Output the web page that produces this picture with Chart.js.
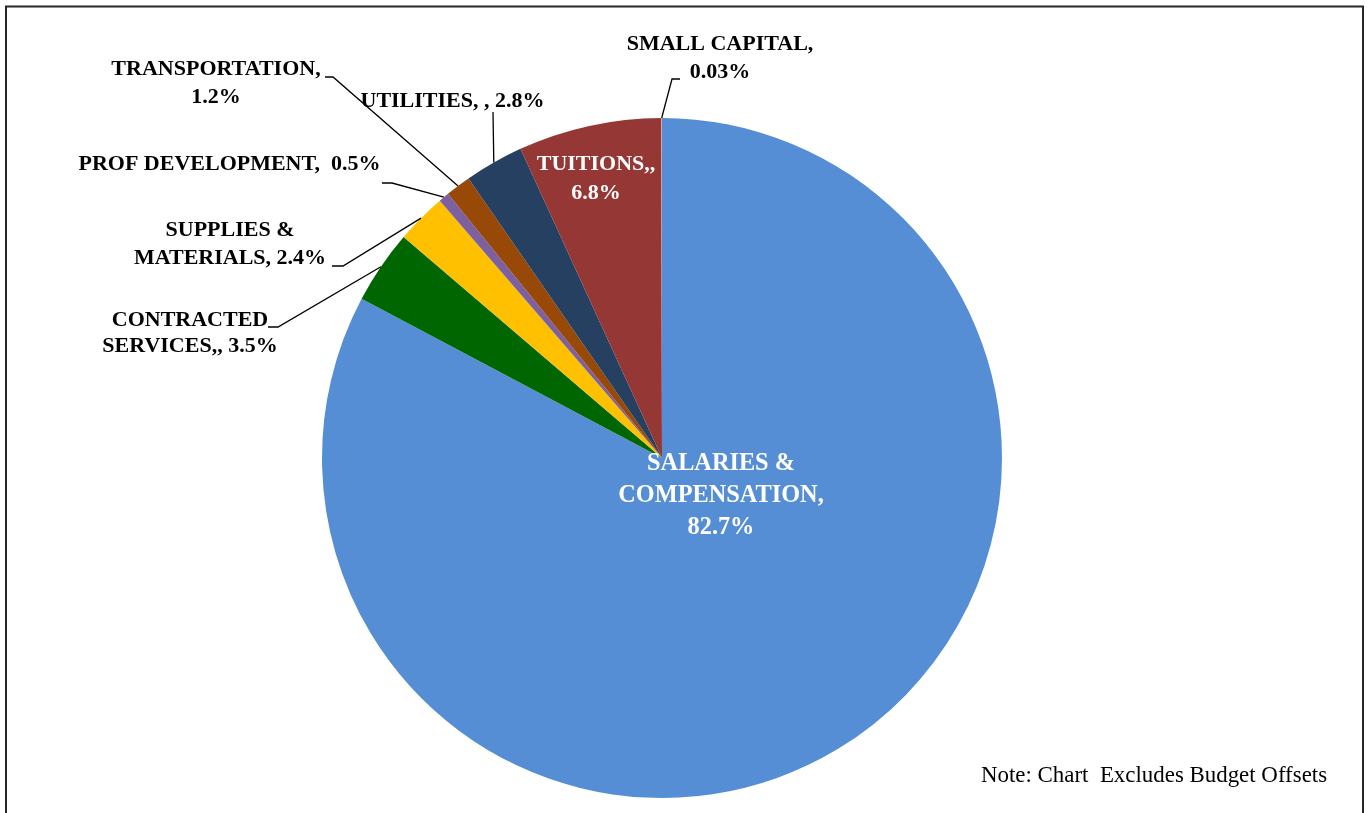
<!DOCTYPE html>
<html>
<head>
<meta charset="utf-8">
<script src="https://cdn.jsdelivr.net/npm/chart.js@4"></script>
<style>
  html, body { margin: 0; padding: 0; background: #fff; }
  canvas { display: block; }
</style>
</head>
<body>
<canvas id="c" width="1368" height="813"></canvas>
<script>
// ---- data ----
const categories = ['SALARIES & COMPENSATION', 'CONTRACTED SERVICES', 'SUPPLIES & MATERIALS', 'PROF DEVELOPMENT', 'TRANSPORTATION', 'UTILITIES', 'TUITIONS', 'SMALL CAPITAL'];
const values = [82.7, 3.5, 2.4, 0.5, 1.2, 2.8, 6.8, 0.03];
const valueText = ['82.7%', '3.5%', '2.4%', '0.5%', '1.2%', '2.8%', '6.8%', '0.03%'];
const labelLines = [
  ['SALARIES &', 'COMPENSATION,', '{v}'],
  ['CONTRACTED', 'SERVICES,, {v}'],
  ['SUPPLIES &', 'MATERIALS, {v}'],
  ['PROF DEVELOPMENT,  {v}'],
  ['TRANSPORTATION,', '{v}'],
  ['UTILITIES, , {v}'],
  ['TUITIONS,,', '{v}'],
  ['SMALL CAPITAL,', '{v}']
];
const colors = ['#558ED5', '#006600', '#FFC000', '#7D60A0', '#984807', '#254061', '#953735', '#D9A0A0'];
const noteText = 'Note: Chart  Excludes Budget Offsets';

// ---- label layout (annotation placement) ----
const labelLayout = [
  { cx: 721, y: 464, lh: 32, size: 24.3, color: '#FFFFFF' },
  { cx: 190, y: 320, lh: 26.5, size: 22, color: '#000', elbow: [278, 327], end: [268, 327] },
  { cx: 230, y: 230.5, lh: 27.5, size: 22, color: '#000', elbow: [343, 266], end: [332, 266] },
  { cx: 229.5, y: 164.5, lh: 27, size: 22, color: '#000', elbow: [392, 183], end: [382, 183] },
  { cx: 216, y: 69.5, lh: 28, size: 22, color: '#000', elbow: [333, 77], end: [325, 77] },
  { cx: 452.5, y: 101, lh: 27, size: 22, color: '#000', elbow: [493, 112], end: null },
  { cx: 596, y: 164.5, lh: 28.5, size: 22, color: '#FFFFFF' },
  { cx: 720, y: 44.5, lh: 28, size: 22, color: '#000', elbow: [672, 79], end: [680, 79] }
];

const labelPlugin = {
  id: 'labelPlugin',
  afterDatasetsDraw(chart) {
    const ctx = chart.ctx;
    const meta = chart.getDatasetMeta(0);
    ctx.save();
    // leader lines
    meta.data.forEach((arc, i) => {
      const L = labelLayout[i];
      if (!L.elbow) return;
      const p = arc.getProps(['x', 'y', 'startAngle', 'endAngle', 'outerRadius'], true);
      const mid = (p.startAngle + p.endAngle) / 2;
      const sx = p.x + Math.cos(mid) * p.outerRadius;
      const sy = p.y + Math.sin(mid) * p.outerRadius;
      ctx.beginPath();
      ctx.strokeStyle = '#000';
      ctx.lineWidth = 1.3;
      ctx.moveTo(sx, sy);
      ctx.lineTo(L.elbow[0], L.elbow[1]);
      if (L.end) ctx.lineTo(L.end[0], L.end[1]);
      ctx.stroke();
    });
    // texts
    ctx.textAlign = 'center';
    ctx.textBaseline = 'middle';
    labelLines.forEach((lines, i) => {
      const L = labelLayout[i];
      ctx.font = 'bold ' + L.size + 'px "Liberation Serif", "Times New Roman", serif';
      ctx.fillStyle = L.color;
      lines.forEach((t, j) => {
        ctx.fillText(t.replace('{v}', valueText[i]), L.cx, L.y + j * L.lh);
      });
    });
    // note
    ctx.textAlign = 'left';
    ctx.font = '22.9px "Liberation Serif", "Times New Roman", serif';
    ctx.fillStyle = '#000';
    ctx.fillText(noteText, 981, 775.5);
    // frame
    ctx.strokeStyle = '#262626';
    ctx.lineWidth = 2;
    ctx.strokeRect(6, 6.5, 1357, 900);
    ctx.restore();
  }
};

new Chart(document.getElementById('c'), {
  type: 'pie',
  data: {
    labels: categories,
    datasets: [{
      data: values,
      backgroundColor: colors,
      borderWidth: 0,
      hoverBorderWidth: 0,
      hoverOffset: 0,
      offset: 0
    }]
  },
  options: {
    responsive: false,
    animation: false,
    layout: { padding: { top: 118, bottom: 15, left: 0, right: 44 } },
    plugins: {
      legend: { display: false },
      tooltip: { enabled: false }
    },
    events: []
  },
  plugins: [labelPlugin]
});
</script>
</body>
</html>
